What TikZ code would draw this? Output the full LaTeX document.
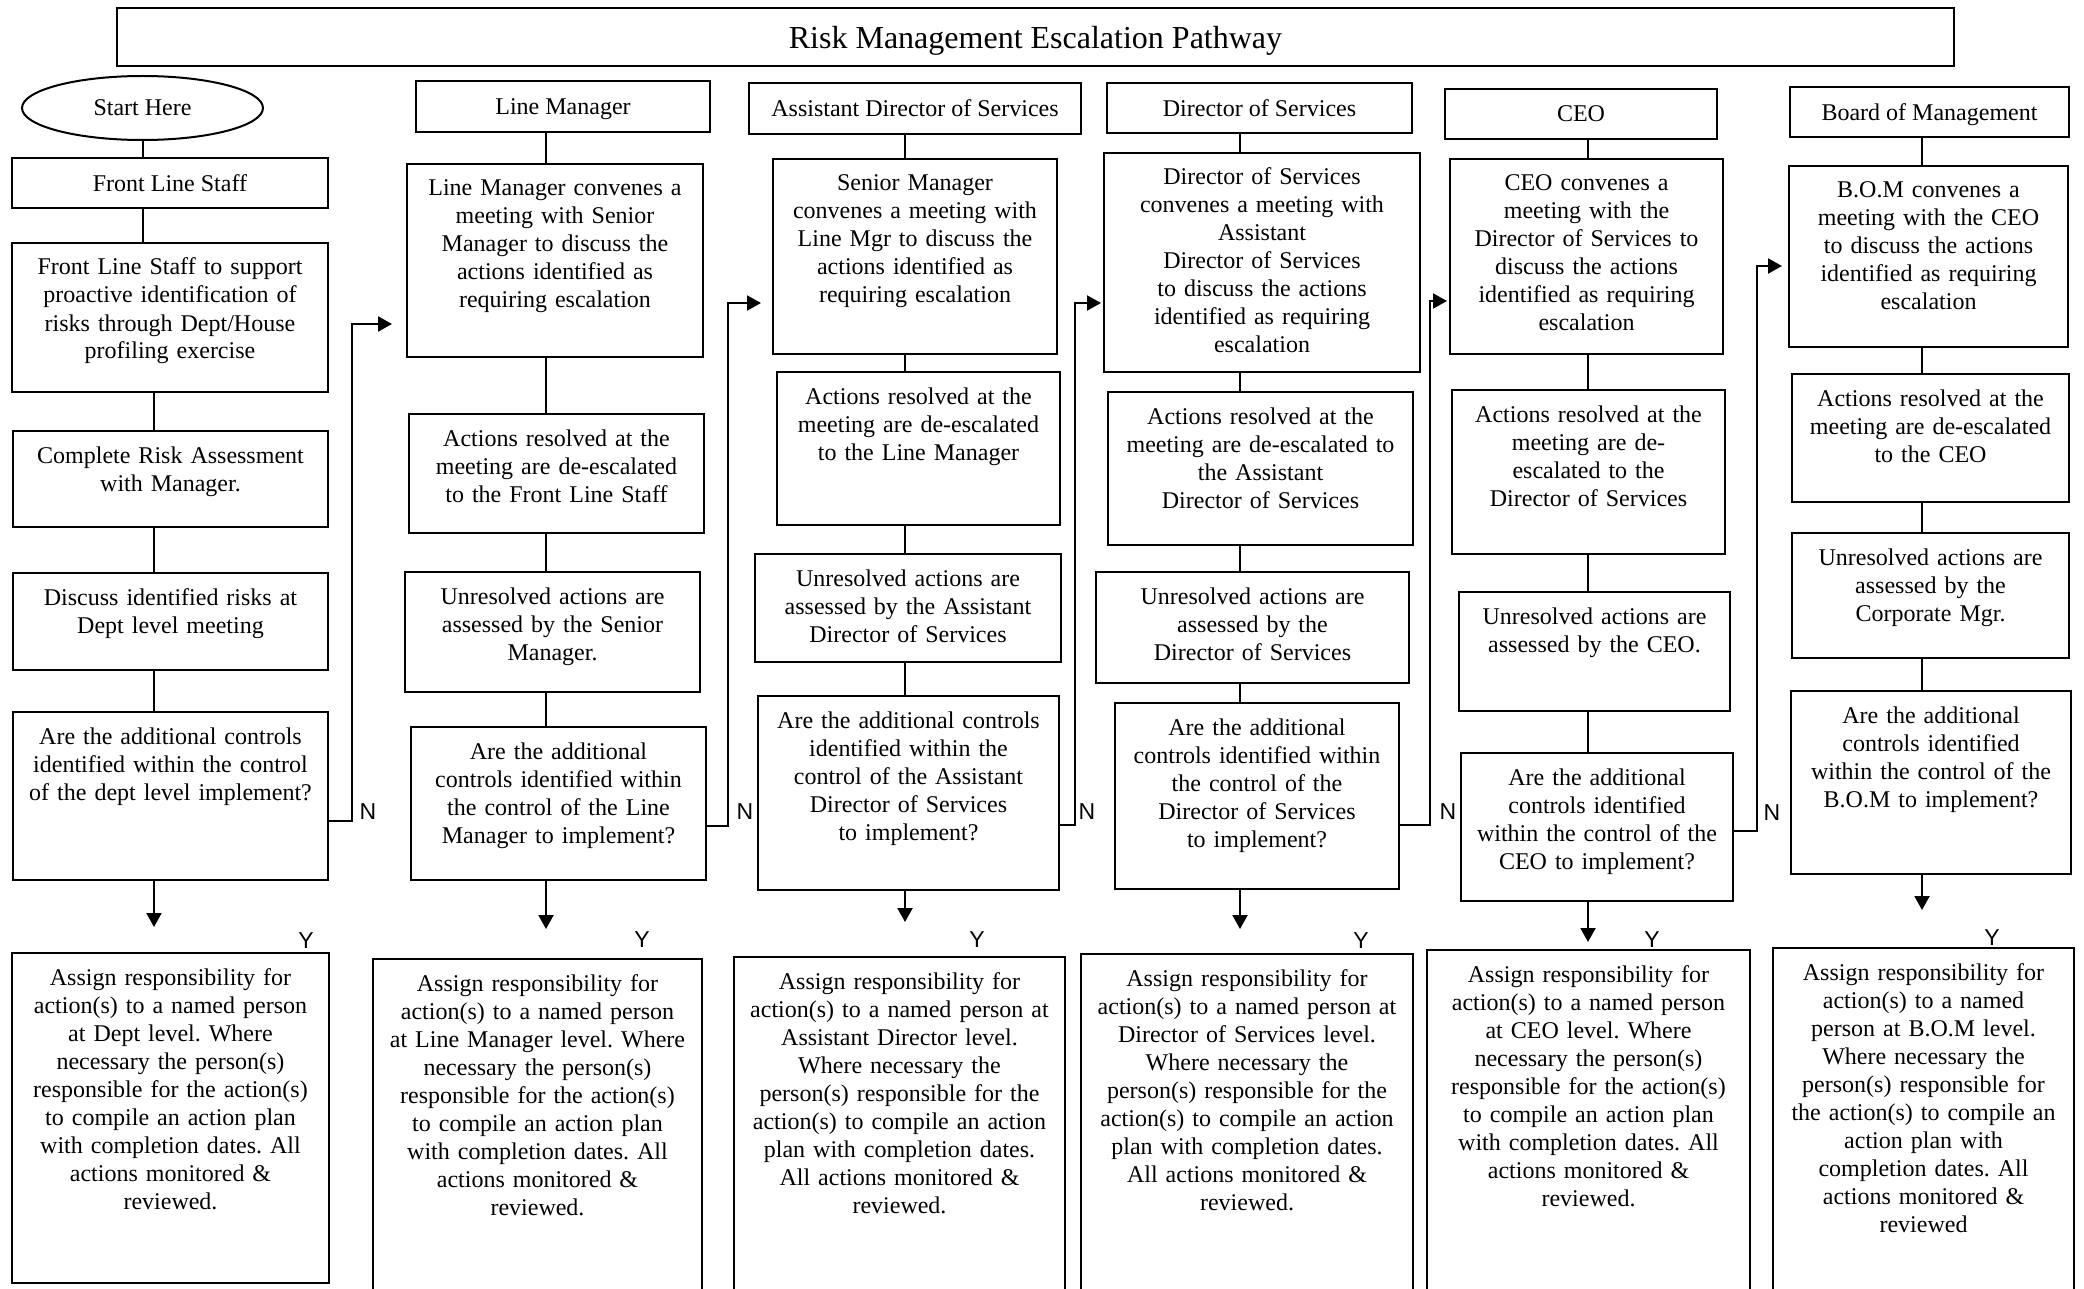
\documentclass[tikz,border=0pt]{standalone}
\usepackage{fontspec}
\setmainfont{Liberation Serif}
\newfontfamily\yesnofont{Liberation Sans}
\usetikzlibrary{shapes.geometric,arrows.meta}
\frenchspacing

\begin{document}
\begin{tikzpicture}[x=1pt,y=-1pt,line width=2pt,
    every node/.style={font=\fontsize{24}{28}\selectfont},
    box/.style 2 args={draw,align=center,anchor=north,inner xsep=4pt,inner ysep=14pt,
        text height=18pt,text width=#1pt,text depth=#2pt},
    head/.style 2 args={draw,inner sep=0pt,text depth=0pt,minimum width=#1pt,minimum height=#2pt},
    yn/.style={font=\yesnofont\fontsize{23}{23}\selectfont,inner sep=0pt},
    arr/.style={-{Triangle[length=14pt,width=15pt]}}]
    \path[use as bounding box,clip] (0,0) rectangle (2084,1289);

    \node[head={1837}{58},line width=2.5pt,font=\fontsize{32}{32}\selectfont] (title) at (1035.5,37) {Risk Management Escalation Pathway};

    % front line staff
    \node[draw,ellipse,inner sep=0pt,minimum width=241pt,minimum height=64pt] (start) at (142.5,108) {Start Here};
    \node[head={316}{50}] (fls) at (170,183) {Front Line Staff};
    \node[box={308}{103}] (p1) at (170,242) {Front Line Staff to support\\proactive identification of\\risks through Dept/House\\profiling exercise};
    \node[box={307}{50}] (p2) at (170.5,430) {Complete Risk Assessment\\with Manager.};
    \node[box={307}{51}] (p3) at (170.5,572) {Discuss identified risks at\\Dept level meeting};
    \node[box={307}{122}] (q1) at (170.5,711) {Are the additional controls\\identified within the control\\of the dept level implement?};
    \node[box={309}{284}] (a1) at (170.5,952) {Assign responsibility for\\action(s) to a named person\\at Dept level. Where\\necessary the person(s)\\responsible for the action(s)\\to compile an action plan\\with completion dates. All\\actions monitored \&\\reviewed.};

    % line manager
    \node[head={294}{51}] (h2) at (563,106.5) {Line Manager};
    \node[box={288}{147}] (m2) at (555,163) {Line Manager convenes a\\meeting with Senior\\Manager to discuss the\\actions identified as\\requiring escalation};
    \node[box={287}{73}] (r2) at (556.5,413) {Actions resolved at the\\meeting are de-escalated\\to the Front Line Staff};
    \node[box={287}{74}] (u2) at (552.5,571) {Unresolved actions are\\assessed by the Senior\\Manager.};
    \node[box={287}{107}] (q2) at (558.5,726) {Are the additional\\controls identified within\\the control of the Line\\Manager to implement?};
    \node[box={321}{296}] (a2) at (537.5,958) {Assign responsibility for\\action(s) to a named person\\at Line Manager level. Where\\necessary the person(s)\\responsible for the action(s)\\to compile an action plan\\with completion dates. All\\actions monitored \&\\reviewed.};

    % assistant director of services
    \node[head={332}{51}] (h3) at (915,108.5) {Assistant Director of Services};
    \node[box={276}{149}] (m3) at (915,158) {Senior Manager\\convenes a meeting with\\Line Mgr to discuss the\\actions identified as\\requiring escalation};
    \node[box={275}{107}] (r3) at (918.5,371) {Actions resolved at the\\meeting are de-escalated\\to the Line Manager};
    \node[box={298}{62}] (u3) at (908,553) {Unresolved actions are\\assessed by the Assistant\\Director of Services};
    \node[box={293}{148}] (q3) at (908.5,695) {Are the additional controls\\identified within the\\control of the Assistant\\Director of Services\\to implement?};
    \node[box={323}{298}] (a3) at (899.5,956) {Assign responsibility for\\action(s) to a named person at\\Assistant Director level.\\Where necessary the\\person(s) responsible for the\\action(s) to compile an action\\plan with completion dates.\\All actions monitored \&\\reviewed.};

    % director of services
    \node[head={305}{50}] (h4) at (1259.5,108) {Director of Services};
    \node[box={308}{173}] (m4) at (1262,152) {Director of Services\\convenes a meeting with\\Assistant\\Director of Services\\to discuss the actions\\identified as requiring\\escalation};
    \node[box={297}{107}] (r4) at (1260.5,391) {Actions resolved at the\\meeting are de-escalated to\\the Assistant\\Director of Services};
    \node[box={305}{65}] (u4) at (1252.5,571) {Unresolved actions are\\assessed by the\\Director of Services};
    \node[box={276}{140}] (q4) at (1257,702) {Are the additional\\controls identified within\\the control of the\\Director of Services\\to implement?};
    \node[box={324}{301}] (a4) at (1247,953) {Assign responsibility for\\action(s) to a named person at\\Director of Services level.\\Where necessary the\\person(s) responsible for the\\action(s) to compile an action\\plan with completion dates.\\All actions monitored \&\\reviewed.};

    % CEO
    \node[head={272}{50}] (h5) at (1581,114) {CEO};
    \node[box={265}{149}] (m5) at (1586.5,158) {CEO convenes a\\meeting with the\\Director of Services to\\discuss the actions\\identified as requiring\\escalation};
    \node[box={265}{118}] (r5) at (1588.5,389) {Actions resolved at the\\meeting are de-\\escalated to the\\Director of Services};
    \node[box={263}{73}] (u5) at (1594.5,591) {Unresolved actions are\\assessed by the CEO.};
    \node[box={264}{102}] (q5) at (1597,752) {Are the additional\\controls identified\\within the control of the\\CEO to implement?};
    \node[box={315}{305}] (a5) at (1588.5,949) {Assign responsibility for\\action(s) to a named person\\at CEO level. Where\\necessary the person(s)\\responsible for the action(s)\\to compile an action plan\\with completion dates. All\\actions monitored \&\\reviewed.};

    % board of management
    \node[head={279}{50}] (h6) at (1929.5,112) {Board of Management};
    \node[box={271}{135}] (m6) at (1928.5,165) {B.O.M convenes a\\meeting with the CEO\\to discuss the actions\\identified as requiring\\escalation};
    \node[box={269}{82}] (r6) at (1930.5,373) {Actions resolved at the\\meeting are de-escalated\\to the CEO};
    \node[box={269}{79}] (u6) at (1930.5,532) {Unresolved actions are\\assessed by the\\Corporate Mgr.};
    \node[box={272}{137}] (q6) at (1931,690) {Are the additional\\controls identified\\within the control of the\\B.O.M to implement?};
    \node[box={293}{307}] (a6) at (1923.5,947) {Assign responsibility for\\action(s) to a named\\person at B.O.M level.\\Where necessary the\\person(s) responsible for\\the action(s) to compile an\\action plan with\\completion dates. All\\actions monitored \&\\reviewed};

    % column lines
    \coordinate (c1) at (154,0);
    \coordinate (c2) at (546,0);
    \coordinate (c3) at (905,0);
    \coordinate (c4) at (1240,0);
    \coordinate (c5) at (1588,0);
    \coordinate (c6) at (1922,0);

    \draw (start) -- (start |- fls.north);
    \draw (fls.south -| start) -- (p1.north -| start);
    \draw (p1.south -| c1) -- (p2.north -| c1);
    \draw (p2.south -| c1) -- (p3.north -| c1);
    \draw (p3.south -| c1) -- (q1.north -| c1);

    \draw (h2.south -| c2) -- (m2.north -| c2);
    \draw (m2.south -| c2) -- (r2.north -| c2);
    \draw (r2.south -| c2) -- (u2.north -| c2);
    \draw (u2.south -| c2) -- (q2.north -| c2);

    \draw (h3.south -| c3) -- (m3.north -| c3);
    \draw (m3.south -| c3) -- (r3.north -| c3);
    \draw (r3.south -| c3) -- (u3.north -| c3);
    \draw (u3.south -| c3) -- (q3.north -| c3);

    \draw (h4.south -| c4) -- (m4.north -| c4);
    \draw (m4.south -| c4) -- (r4.north -| c4);
    \draw (r4.south -| c4) -- (u4.north -| c4);
    \draw (u4.south -| c4) -- (q4.north -| c4);

    \draw (h5.south -| c5) -- (m5.north -| c5);
    \draw (m5.south -| c5) -- (r5.north -| c5);
    \draw (r5.south -| c5) -- (u5.north -| c5);
    \draw (u5.south -| c5) -- (q5.north -| c5);

    \draw (h6.south -| c6) -- (m6.north -| c6);
    \draw (m6.south -| c6) -- (r6.north -| c6);
    \draw (r6.south -| c6) -- (u6.north -| c6);
    \draw (u6.south -| c6) -- (q6.north -| c6);

    % yes arrows
    \begin{scope}[arr]
        \draw[shorten >=25pt] (q1.south -| c1) -- (a1.north -| c1);
        \draw[shorten >=29pt] (q2.south -| c2) -- (a2.north -| c2);
        \draw[shorten >=34pt] (q3.south -| c3) -- (a3.north -| c3);
        \draw[shorten >=24pt] (q4.south -| c4) -- (a4.north -| c4);
        \draw[shorten >=7pt] (q5.south -| c5) -- (a5.north -| c5);
        \draw[shorten >=37pt] (q6.south -| c6) -- (a6.north -| c6);
    \end{scope}

    % no arrows
    \begin{scope}[arr]
        \draw[shorten >=14pt] ([yshift=-25pt]q1.east) -- ++(23,0) |- ([yshift=-63.5pt]m2.west);
        \draw[shorten >=11pt] ([yshift=-22.5pt]q2.east) -- ++(21,0) |- ([yshift=-46.5pt]m3.west);
        \draw[shorten >=2pt] ([yshift=-32pt]q3.east) -- ++(15,0) |- ([yshift=-40.5pt]m4.west);
        \draw[shorten >=2pt] ([yshift=-29pt]q4.east) -- ++(30,0) |- ([yshift=-44.5pt]m5.west);
        \draw[shorten >=6pt] ([yshift=-4pt]q5.east) -- ++(23,0) |- ([yshift=-9.5pt]m6.west);
    \end{scope}

    \node[yn] (n1) at (368,812) {N};
    \node[yn] (n2) at (745,812) {N};
    \node[yn] (n3) at (1087,812) {N};
    \node[yn] (n4) at (1448,812) {N};
    \node[yn] (n5) at (1772,813) {N};

    \node[yn] (y1) at (306,941) {Y};
    \node[yn] (y2) at (642,940) {Y};
    \node[yn] (y3) at (977,940) {Y};
    \node[yn] (y4) at (1361,941) {Y};
    \node[yn] (y5) at (1652,940) {Y};
    \node[yn] (y6) at (1992,938) {Y};
\end{tikzpicture}
\end{document}
